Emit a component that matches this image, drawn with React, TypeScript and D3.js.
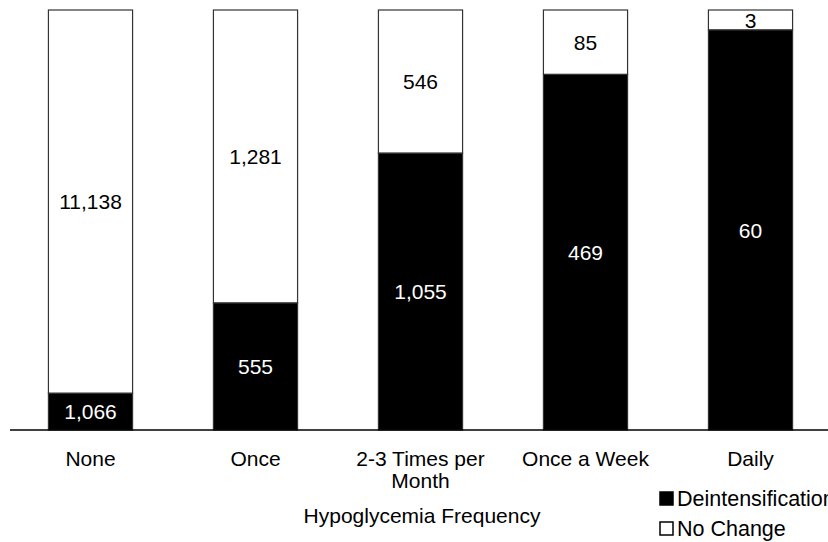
import * as d3 from 'd3';
import { useEffect, useRef } from 'react';

const categories = ['None', 'Once', '2-3 Times per Month', 'Once a Week', 'Daily'];
const deintensification = [1066, 555, 1055, 469, 60];
const noChange = [11138, 1281, 546, 85, 3];
const tickLines = [['None'], ['Once'], ['2-3 Times per', 'Month'], ['Once a Week'], ['Daily']];

export default function App() {
  const svgRef = useRef<SVGSVGElement>(null);
  const w = 828;
  const h = 542;

  useEffect(() => {
    if (svgRef.current == null) {
      return;
    }
    const svg = d3.select(svgRef.current);
    svg.selectAll('*').remove();
    const font = 'Liberation Sans, Arial, sans-serif';
    const fs = 21;

    const xScale = d3.scaleBand<string>().domain(categories).range([8, 833]).paddingInner(0.49).paddingOuter(0.245);
    const yScale = d3.scaleLinear().domain([0, 1]).range([430, 10]);

    categories.forEach((cat, i) => {
      const total = deintensification[i] + noChange[i];
      const share = deintensification[i] / total;
      const x = xScale(cat)!;
      const bw = xScale.bandwidth();

      svg
        .append('rect')
        .attr('x', x)
        .attr('y', yScale(1))
        .attr('width', bw)
        .attr('height', yScale(share) - yScale(1))
        .attr('fill', 'white')
        .attr('stroke', '#333')
        .attr('stroke-width', 1.2);

      svg
        .append('rect')
        .attr('x', x)
        .attr('y', yScale(share))
        .attr('width', bw)
        .attr('height', yScale(0) - yScale(share))
        .attr('fill', 'black')
        .attr('stroke', '#333')
        .attr('stroke-width', 1.2);

      svg
        .append('text')
        .attr('x', x + bw / 2)
        .attr('y', (yScale(1) + yScale(share)) / 2)
        .attr('dy', '0.36em')
        .attr('text-anchor', 'middle')
        .style('font', `${fs}px ${font}`)
        .attr('fill', 'black')
        .text(d3.format(',')(noChange[i]));

      svg
        .append('text')
        .attr('x', x + bw / 2)
        .attr('y', (yScale(share) + yScale(0)) / 2)
        .attr('dy', '0.36em')
        .attr('text-anchor', 'middle')
        .style('font', `${fs}px ${font}`)
        .attr('fill', 'white')
        .text(d3.format(',')(deintensification[i]));

      tickLines[i].forEach((line, j) => {
        svg
          .append('text')
          .attr('x', x + bw / 2)
          .attr('y', 458 + j * 22)
          .attr('dy', '0.36em')
          .attr('text-anchor', 'middle')
          .style('font', `${fs}px ${font}`)
          .text(line);
      });
    });

    svg
      .append('line')
      .attr('x1', 10)
      .attr('x2', w)
      .attr('y1', yScale(0))
      .attr('y2', yScale(0))
      .attr('stroke', 'black')
      .attr('stroke-width', 1.5);

    svg
      .append('text')
      .attr('x', 422)
      .attr('y', 515)
      .attr('dy', '0.36em')
      .attr('text-anchor', 'middle')
      .style('font', `${fs}px ${font}`)
      .text('Hypoglycemia Frequency');

    const legend = [
      { label: 'Deintensification', fill: 'black', y: 498 },
      { label: 'No Change', fill: 'white', y: 528 },
    ];
    legend.forEach((d) => {
      svg
        .append('rect')
        .attr('x', 660)
        .attr('y', d.y - 6)
        .attr('width', 13)
        .attr('height', 13)
        .attr('fill', d.fill)
        .attr('stroke', 'black')
        .attr('stroke-width', 1.5);
      svg
        .append('text')
        .attr('x', 677)
        .attr('y', d.y)
        .attr('dy', '0.36em')
        .style('font', `21.5px ${font}`)
        .text(d.label);
    });
  }, []);

  return (
    <svg
      ref={svgRef}
      width={w}
      height={h}
      style={{ position: 'absolute', left: 0, top: 0, background: 'white' }}
    ></svg>
  );
}
